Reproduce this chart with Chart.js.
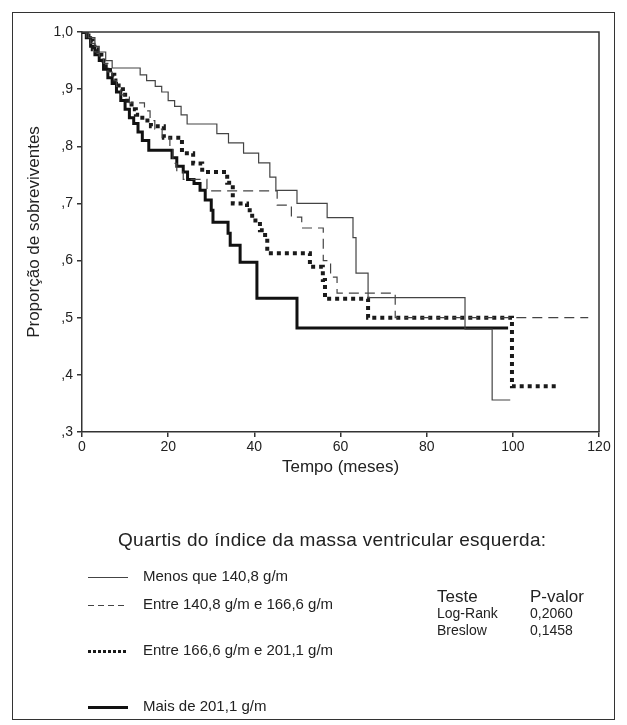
<!DOCTYPE html>
<html><head><meta charset="utf-8">
<script src="https://cdn.jsdelivr.net/npm/chart.js@4.4.1/dist/chart.umd.min.js"></script>
<style>html,body{margin:0;padding:0;background:#fff}#wrap{width:627px;height:725px;position:relative}</style>
</head><body><div id="wrap"><canvas id="c"></canvas></div>
<script>
// ---- data ----
const seriesNames = ["Menos que 140,8 g/m", "Entre 140,8 g/m e 166,6 g/m", "Entre 166,6 g/m e 201,1 g/m", "Mais de 201,1 g/m"];
const timesMenos = [0, 1.5, 3, 4, 5.5, 7, 13.5, 15, 17, 18.5, 20, 21.5, 23, 24.4, 31.3, 34, 37.5, 41, 43.6, 45, 49.9, 56.9, 62.9, 63.6, 66.4, 88.9, 95.2, 99.4];
const survMenos  = [1, 0.99, 0.975, 0.965, 0.95, 0.937, 0.925, 0.915, 0.905, 0.895, 0.88, 0.87, 0.855, 0.839, 0.822, 0.806, 0.788, 0.771, 0.746, 0.723, 0.70, 0.675, 0.64, 0.578, 0.535, 0.48, 0.356, 0.356];
const timesEntre1 = [0, 1, 2, 3, 4, 5, 6, 7, 8, 9, 11, 14.5, 15.8, 16.9, 18.6, 20.4, 21.1, 22, 23.5, 29, 45.3, 48.6, 51, 56, 57.7, 59.2, 72.7, 117.5];
const survEntre1  = [1, 0.99, 0.98, 0.965, 0.955, 0.945, 0.93, 0.915, 0.905, 0.89, 0.876, 0.862, 0.845, 0.83, 0.815, 0.80, 0.77, 0.755, 0.742, 0.722, 0.697, 0.676, 0.657, 0.60, 0.571, 0.543, 0.50, 0.50];
const timesEntre2 = [0, 1.5, 2.5, 3.5, 4.5, 5.5, 6.5, 7.5, 8.5, 9.5, 10.5, 11.5, 12.5, 14, 16, 19, 23.2, 25.8, 27.9, 33.7, 35, 38.3, 39.5, 41.3, 42.5, 43, 52.9, 55.9, 56.4, 66.4, 99.8, 110.5];
const survEntre2  = [1, 0.985, 0.97, 0.96, 0.95, 0.94, 0.925, 0.915, 0.90, 0.89, 0.875, 0.865, 0.855, 0.845, 0.835, 0.815, 0.788, 0.77, 0.755, 0.736, 0.70, 0.688, 0.67, 0.653, 0.641, 0.613, 0.589, 0.566, 0.533, 0.50, 0.38, 0.38];
const timesMais = [0, 1, 2, 3, 4, 5, 6, 7, 8, 9, 10, 11, 12, 13, 14, 15.5, 20.9, 22, 23.5, 24.5, 26, 27.4, 28.6, 30, 30.4, 33.9, 34.4, 36.7, 40.6, 49.9, 98.9];
const survMais  = [1, 0.99, 0.975, 0.96, 0.95, 0.935, 0.92, 0.91, 0.895, 0.88, 0.865, 0.85, 0.84, 0.825, 0.81, 0.793, 0.78, 0.765, 0.755, 0.742, 0.735, 0.723, 0.706, 0.688, 0.667, 0.648, 0.627, 0.597, 0.534, 0.482, 0.482];
const xTickValues = [0, 20, 40, 60, 80, 100, 120];
const yTickLabels = {3: ",3", 4: ",4", 5: ",5", 6: ",6", 7: ",7", 8: ",8", 9: ",9", 10: "1,0"};
const legendTitle = "Quartis do índice da massa ventricular esquerda:";
const testHeader = ["Teste", "P-valor"];
const testNames = ["Log-Rank", "Breslow"];
const testValues = ["0,2060", "0,1458"];

const FONT = "'Liberation Sans', Arial, sans-serif";
Chart.defaults.font.family = FONT;
Chart.defaults.color = '#222';

function pts(t, s) { return t.map((v, i) => ({x: v, y: s[i]})); }

const styles = [
  {borderColor: '#444', borderWidth: 1.2, borderDash: []},
  {borderColor: '#444', borderWidth: 1.2, borderDash: [10, 6]},
  {borderColor: '#1a1a1a', borderWidth: 4, borderDash: [4, 4]},
  {borderColor: '#111', borderWidth: 3, borderDash: []}
];
const allData = [pts(timesMenos, survMenos), pts(timesEntre1, survEntre1), pts(timesEntre2, survEntre2), pts(timesMais, survMais)];

const frame = {
  id: 'frame',
  afterDatasetsDraw(chart) {
    const {ctx, chartArea: a} = chart;
    ctx.save();
    ctx.strokeStyle = '#333'; ctx.lineWidth = 1.5;
    ctx.beginPath();
    ctx.moveTo(a.left, a.top); ctx.lineTo(a.right, a.top); ctx.lineTo(a.right, a.bottom);
    ctx.stroke();
    ctx.restore();
  },
  afterDraw(chart) {
    const ctx = chart.ctx;
    ctx.save();
    ctx.strokeStyle = '#333'; ctx.lineWidth = 1;
    ctx.strokeRect(12.5, 12.5, 602, 707);
    ctx.fillStyle = '#222';
    ctx.textBaseline = 'middle';
    ctx.font = "19px " + FONT;
    ctx.letterSpacing = '0.3px';
    ctx.fillText(legendTitle, 118, 541);
    ctx.letterSpacing = '0px';
    const ys = [577, 605, 651, 707];
    ctx.font = "15px " + FONT;
    ys.forEach((y, i) => {
      const st = styles[i];
      ctx.save();
      ctx.strokeStyle = st.borderColor;
      ctx.lineWidth = i === 2 ? 3 : st.borderWidth;
      ctx.setLineDash(i === 2 ? [3, 2] : (i === 1 ? [6, 4] : []));
      ctx.beginPath(); ctx.moveTo(88, y + 0.5); ctx.lineTo(128, y + 0.5); ctx.stroke();
      ctx.restore();
      ctx.fillText(seriesNames[i], 143, y);
    });
    ctx.font = "17px " + FONT;
    ctx.fillText(testHeader[0], 437, 597);
    ctx.fillText(testHeader[1], 530, 597);
    ctx.font = "14px " + FONT;
    testNames.forEach((n, i) => {
      ctx.fillText(n, 437, 614 + i * 17);
      ctx.fillText(testValues[i], 530, 614 + i * 17);
    });
    ctx.restore();
  }
};

new Chart(document.getElementById('c'), {
  type: 'line',
  data: {
    datasets: allData.map((d, i) => Object.assign({
      label: seriesNames[i], data: d, stepped: 'before', pointRadius: 0, fill: false, tension: 0
    }, styles[i]))
  },
  options: {
    responsive: true, maintainAspectRatio: false, animation: false,
    layout: {padding: {left: 12, top: 32, right: 28, bottom: 243}},
    plugins: {legend: {display: false}, tooltip: {enabled: false}},
    scales: {
      x: {
        type: 'linear', min: 0, max: 120,
        afterBuildTicks: s => { s.ticks = xTickValues.map(v => ({value: v})); },
        afterFit: s => { s.height = 50; },
        ticks: {font: {size: 14}, color: '#222', padding: 2, maxRotation: 0},
        grid: {display: true, drawOnChartArea: false, drawTicks: true, tickLength: 5, color: '#333', lineWidth: 1.5},
        border: {display: true, color: '#333', width: 1.5},
        title: {display: true, text: 'Tempo (meses)', font: {size: 17}, color: '#222', padding: {top: 0, bottom: 4}}
      },
      y: {
        type: 'linear', min: 0.3, max: 1.0,
        ticks: {stepSize: 0.1, font: {size: 14}, color: '#222', padding: 4,
          callback: v => yTickLabels[Math.round(v * 10)] || ''},
        afterFit: s => { s.width = 70; },
        grid: {display: true, drawOnChartArea: false, drawTicks: true, tickLength: 5, color: '#333', lineWidth: 1.5},
        border: {display: true, color: '#333', width: 1.5},
        title: {display: true, text: 'Proporção de sobreviventes', font: {size: 17}, color: '#222', padding: {top: 12, bottom: 0}}
      }
    }
  },
  plugins: [frame]
});
</script></body></html>
